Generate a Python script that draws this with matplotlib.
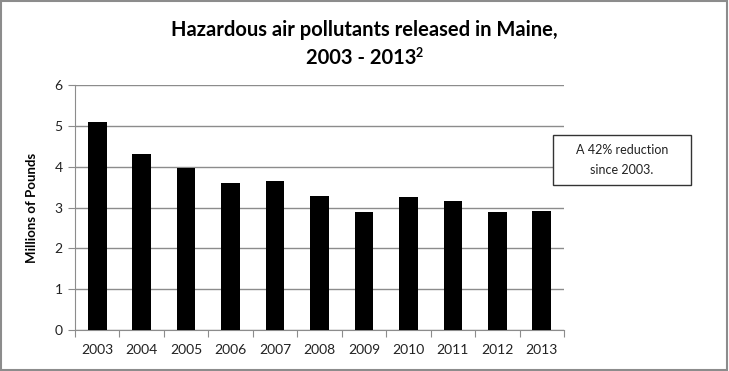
import matplotlib
matplotlib.use("Agg")
import matplotlib.pyplot as plt
from matplotlib.patches import Rectangle
import numpy as np

years = ["2003", "2004", "2005", "2006", "2007", "2008", "2009", "2010", "2011", "2012", "2013"]
pounds_millions = [5.10, 4.31, 3.96, 3.59, 3.66, 3.28, 2.88, 3.25, 3.17, 2.88, 2.91]
y_ticks = [0, 1, 2, 3, 4, 5, 6]

title_line1 = "Hazardous air pollutants released in Maine,"
title_line2 = "2003 - 2013"
title_note_mark = "2"
y_label = "Millions of Pounds"
note = "A 42% reduction\nsince 2003."

plt.rcParams["font.family"] = ["Lato", "DejaVu Sans"]

fig = plt.figure(figsize=(7.29, 3.71), dpi=100)
ax = fig.add_axes([0.1029, 0.1105, 0.6708, 0.6604])

x = np.arange(len(years))
ax.bar(x, pounds_millions, width=0.42, color="black", zorder=3)

ax.set_xlim(-0.5, len(years) - 0.5)
ax.set_ylim(0, 6)
ax.set_yticks(y_ticks)
ax.set_yticklabels([str(t) for t in y_ticks], fontsize=10, color="#222222")
ax.yaxis.grid(True, color="#8c8c8c", linewidth=1.0, zorder=0)
ax.set_axisbelow(True)

# category ticks sit between the bars
ax.set_xticks(np.arange(-0.5, len(years)), minor=False)
ax.set_xticklabels([])
ax.set_xticks(x, minor=True)
ax.set_xticklabels(years, minor=True, fontsize=10, color="#222222")
ax.tick_params(axis="x", which="minor", length=0, pad=10)
ax.tick_params(axis="x", which="major", length=5, color="#8c8c8c", direction="out")
ax.tick_params(axis="y", length=5, color="#8c8c8c", direction="out", pad=4)

for side in ("top", "right"):
    ax.spines[side].set_visible(False)
for side in ("left", "bottom"):
    ax.spines[side].set_color("#8c8c8c")

ax.set_ylabel(y_label, fontsize=9.5, fontweight="bold", labelpad=12)

fig.text(0.5, 0.919, title_line1, ha="center", va="center", fontsize=14.5, fontweight="bold")
t2 = fig.text(0.495, 0.843, title_line2, ha="center", va="center", fontsize=14.5, fontweight="bold")

# footnote mark after the second title line
fig.canvas.draw()
bb = t2.get_window_extent().transformed(fig.transFigure.inverted())
fig.text(bb.x1 - 0.001, bb.y1 + 0.004, title_note_mark, ha="left", va="top",
         fontsize=9, fontweight="bold")

# annotation box
fig.add_artist(Rectangle((0.7586, 0.5013), 0.1893, 0.1348, transform=fig.transFigure,
                         facecolor="white", edgecolor="#333333", linewidth=1.0, zorder=5))
fig.text(0.8532, 0.5687, note, ha="center", va="center", fontsize=9, color="#222222",
         linespacing=1.8, zorder=6)

fig.add_artist(Rectangle((0.001, 0.002), 0.996, 0.995, transform=fig.transFigure,
                         fill=False, edgecolor="#8c8c8c", linewidth=1.5))

fig.savefig("out.png", dpi=100)
